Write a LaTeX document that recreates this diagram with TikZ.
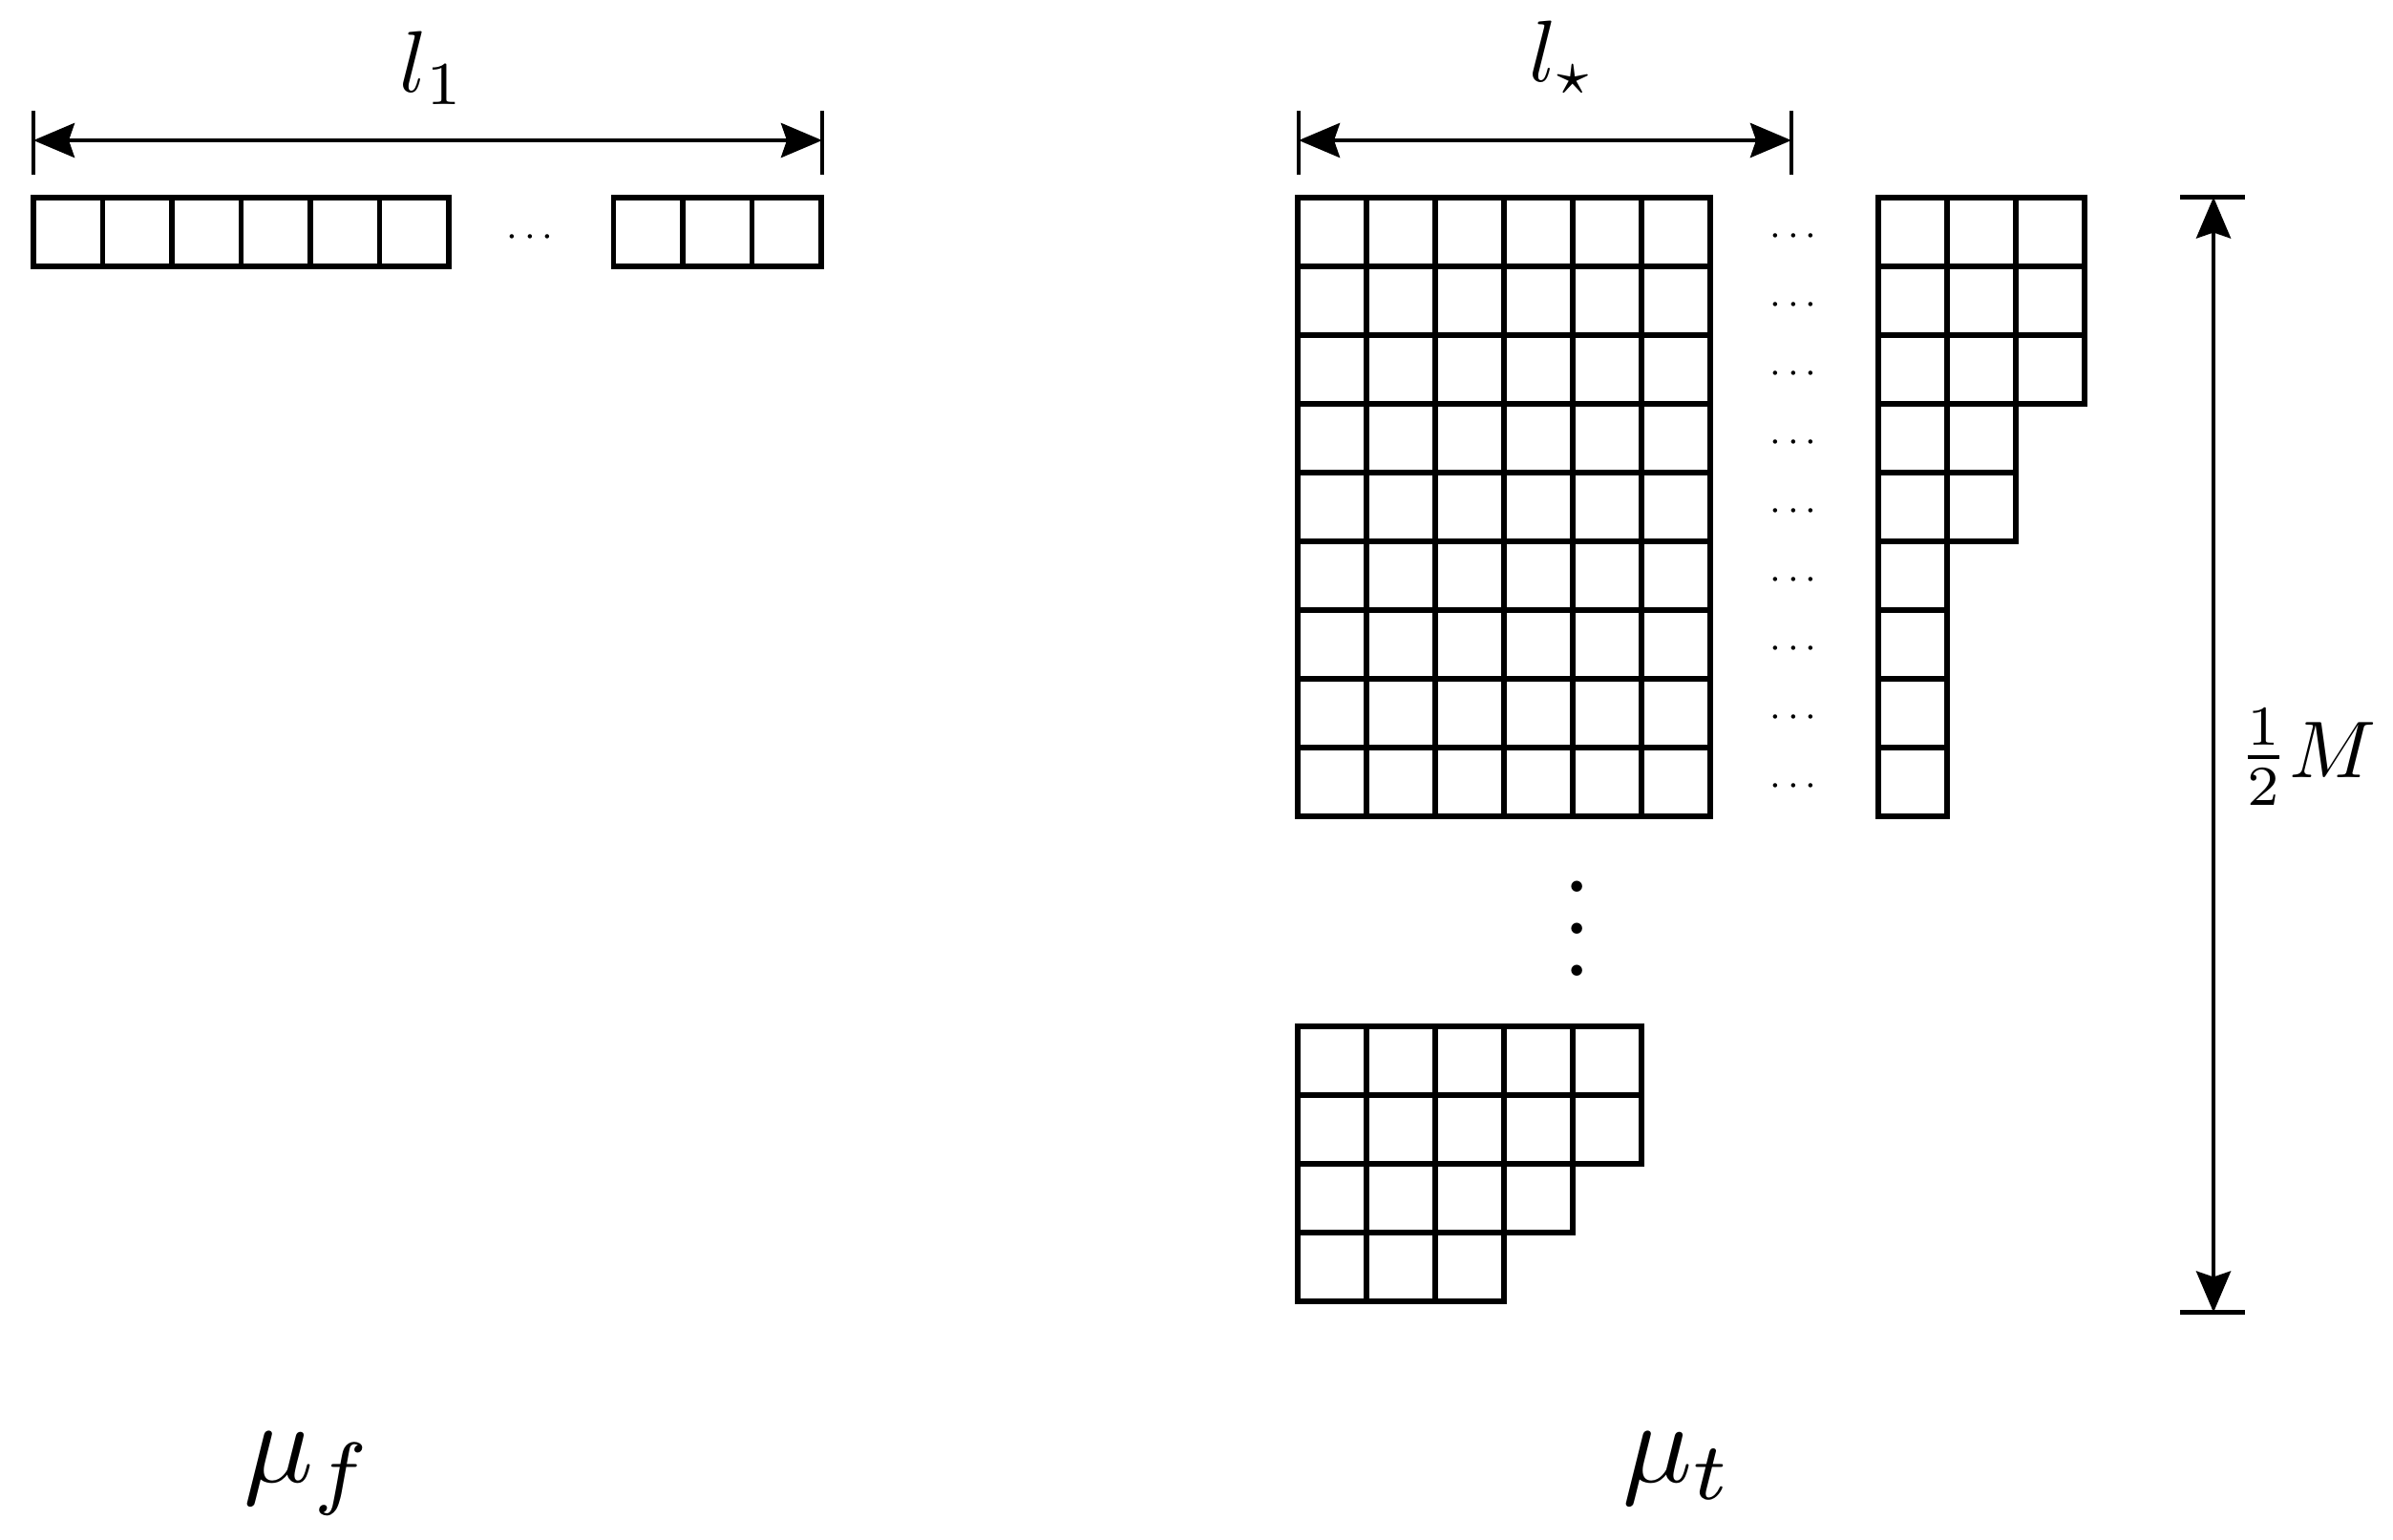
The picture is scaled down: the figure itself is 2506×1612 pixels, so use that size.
\documentclass[tikz,border=0pt]{standalone}
\usepackage{graphicx}
\usetikzlibrary{arrows.meta}
\begin{document}
\begin{tikzpicture}[x=0.01cm,y=-0.01cm,
  cellline/.style={line width=1.6pt},
  dimline/.style={line width=1.25pt,{Stealth[length=0.43cm,width=0.36cm,inset=0.06cm]}-{Stealth[length=0.43cm,width=0.36cm,inset=0.06cm]}},
  tickline/.style={line width=1.25pt},
  lbl/.style={inner sep=0pt,anchor=base},
  dotlbl/.style={inner sep=0pt,anchor=base,font=\fontsize{13}{16}\selectfont}]
\useasboundingbox (0,0) rectangle (2506,1612);

% ---- left: mu_f ----
\foreach \i in {0,...,5} \draw[cellline] ({35+72.5*\i},207) rectangle ++(72.5,72);
\foreach \i in {0,...,2} \draw[cellline] ({642.5+72.5*\i},207) rectangle ++(72.5,72);
\node[dotlbl] (ldots) at (555,258) {$\cdots$};

\coordinate (la1) at (35,116);  \coordinate (lb1) at (35,183);
\coordinate (la2) at (861,116); \coordinate (lb2) at (861,183);
\coordinate (lA) at (35,147);   \coordinate (lB) at (861,147);
\draw[tickline] (la1) -- (lb1);
\draw[tickline] (la2) -- (lb2);
\draw[dimline] (lA) -- (lB);
\node[lbl] (l1) at (453,96) {\scalebox{2.6}{$l_1$}};

\node[lbl] (muf) at (323,1552) {\scalebox{3.45}{$\mu_f$}};

% ---- right: mu_t ----
\foreach \r in {0,...,8} \foreach \c in {0,...,5}
  \draw[cellline] ({1359+72*\c},{207+72*\r}) rectangle ++(72,72);
\foreach \r/\n in {0/3,1/3,2/3,3/2,4/2,5/1,6/1,7/1,8/1}
  \foreach \c in {1,...,\n}
    \draw[cellline] ({1967+72*(\c-1)},{207+72*\r}) rectangle ++(72,72);
\foreach \r in {0,...,8} \node[dotlbl] (cd\r) at (1878,{257+72*\r}) {$\cdots$};

\node[inner sep=0pt,anchor=base] (vd) at (1652,1022) {\scalebox{3.1}{$\vdots$}};

\foreach \r/\n in {0/5,1/5,2/4,3/3}
  \foreach \c in {1,...,\n}
    \draw[cellline] ({1359+72*(\c-1)},{1075+72*\r}) rectangle ++(72,72);

\coordinate (sa1) at (1360,116);  \coordinate (sb1) at (1360,183);
\coordinate (sa2) at (1876,116);  \coordinate (sb2) at (1876,183);
\coordinate (sA) at (1360,147);   \coordinate (sB) at (1876,147);
\draw[tickline] (sa1) -- (sb1);
\draw[tickline] (sa2) -- (sb2);
\draw[dimline] (sA) -- (sB);
\node[lbl] (lstar) at (1636,85) {\scalebox{2.6}{$l_\star$}};

\coordinate (ma1) at (2283,206.5);  \coordinate (mb1) at (2351,206.5);
\coordinate (ma2) at (2283,1374.5); \coordinate (mb2) at (2351,1374.5);
\coordinate (mA) at (2318,206.5);   \coordinate (mB) at (2318,1374.5);
\draw[tickline] (ma1) -- (mb1);
\draw[tickline] (ma2) -- (mb2);
\draw[dimline] (mA) -- (mB);
\node[lbl] (halfM) at (2416,814) {\scalebox{2.4}{$\frac{1}{2}M$}};

\node[lbl] (mut) at (1757,1552) {\scalebox{3.45}{$\mu_t$}};
\end{tikzpicture}
\end{document}
